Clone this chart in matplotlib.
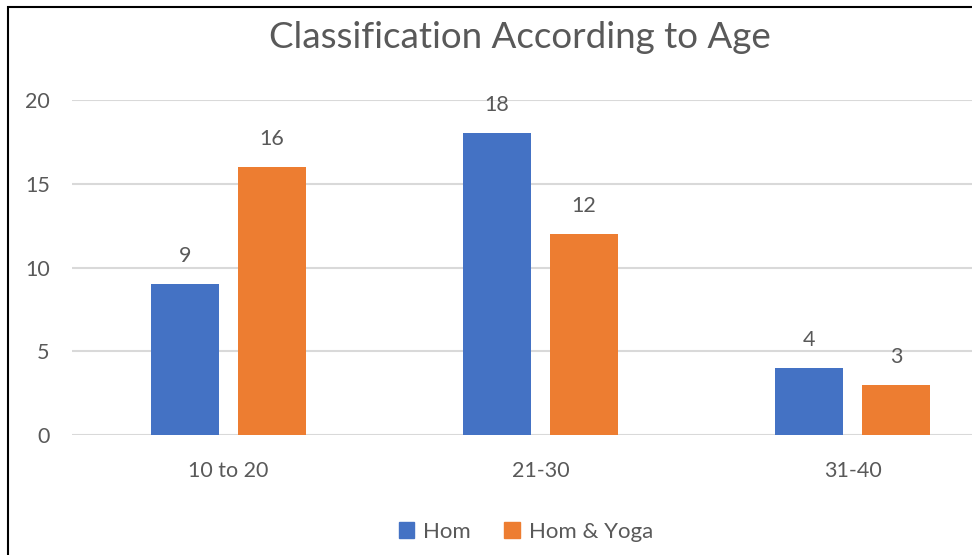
import numpy as np
import matplotlib
matplotlib.use("Agg")
import matplotlib.pyplot as plt
from matplotlib.patches import Patch, Rectangle

plt.rcParams['font.family'] = ['Lato', 'DejaVu Sans']

# data
age_groups = ["10 to 20", "21-30", "31-40"]
hom = [9, 18, 4]
hom_yoga = [16, 12, 3]
series_names = ["Hom", "Hom & Yoga"]
y_ticks = [0, 5, 10, 15, 20]

BLUE = "#4472C4"
ORANGE = "#ED7D31"
TEXT = "#595959"
GRID = "#D9D9D9"

W, H = 972, 555
fig = plt.figure(figsize=(W / 100, H / 100), dpi=100)

# axes runs past the right edge, the reference is cropped there
left, right, top, bottom = 72, 1009, 100, 435
ax = fig.add_axes([left / W, 1 - bottom / H, (right - left) / W, (bottom - top) / H])

x = np.arange(len(age_groups))
bw = 0.218
off = 0.139
b1 = ax.bar(x - off, hom, bw, color=BLUE, label=series_names[0], zorder=3)
b2 = ax.bar(x + off, hom_yoga, bw, color=ORANGE, label=series_names[1], zorder=3)

for bars in (b1, b2):
    for rect in bars:
        ax.annotate(f"{rect.get_height():g}",
                    (rect.get_x() + rect.get_width() / 2, rect.get_height()),
                    xytext=(0, 13), textcoords="offset points",
                    ha="center", va="bottom", fontsize=15.5, color=TEXT)

ax.set_xlim(-0.5, len(age_groups) - 0.5)
ax.set_ylim(0, 20)
ax.set_yticks(y_ticks)
ax.set_xticks(x)
ax.set_xticklabels(age_groups)
ax.yaxis.grid(True, color=GRID, linewidth=1.5, zorder=0)
ax.tick_params(axis="both", length=0, labelsize=15.5, labelcolor=TEXT)
ax.tick_params(axis="y", pad=16)
ax.tick_params(axis="x", pad=19)
for s in ax.spines.values():
    s.set_visible(False)

fig.text(520 / W, 1 - 38 / H, "Classification According to Age",
         ha="center", va="center", fontsize=26.5, color=TEXT)

handles = [Patch(color=BLUE), Patch(color=ORANGE)]
fig.legend(handles, series_names, loc="center", bbox_to_anchor=(526 / W, 1 - 532 / H),
           ncol=2, frameon=False, fontsize=16, labelcolor=TEXT,
           handlelength=0.7, handleheight=0.7, handletextpad=0.4, columnspacing=1.5)

# chart border, only left and top edges show in the crop
fig.patches.append(Rectangle((8 / W, -0.1), 2, 1.1 - 7 / H, transform=fig.transFigure,
                             fill=False, edgecolor="black", linewidth=1.5))

fig.savefig("out.png", dpi=100)
